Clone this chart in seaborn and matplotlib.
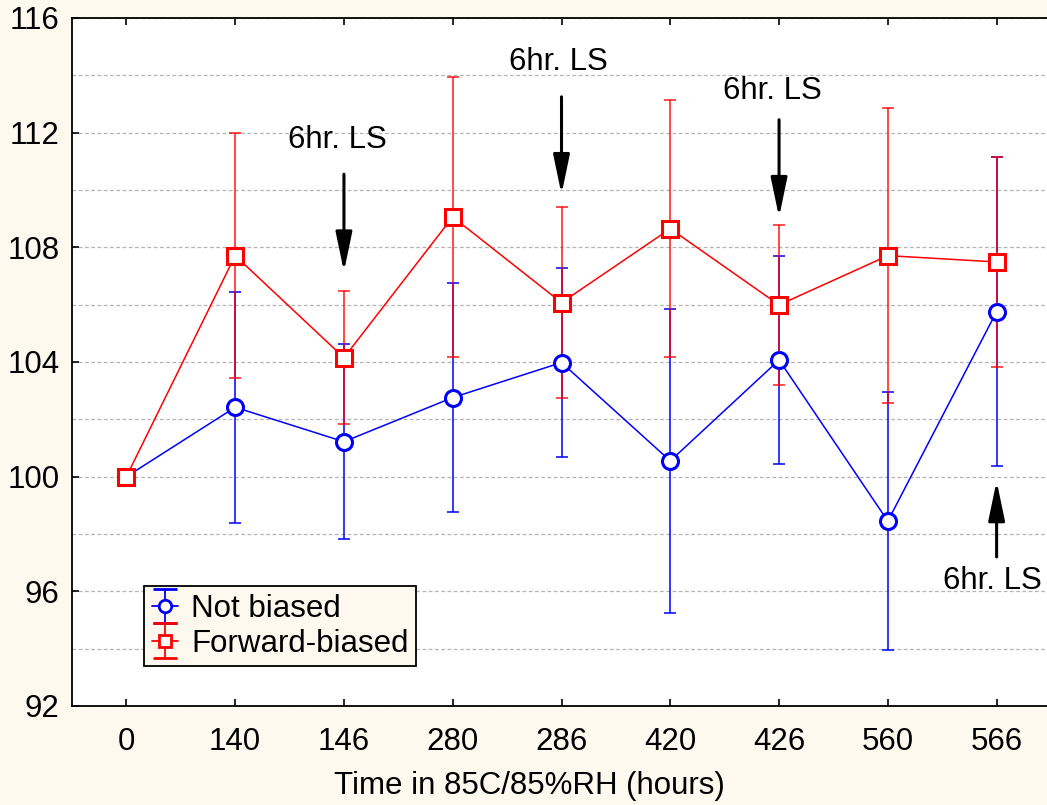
import matplotlib
matplotlib.use("Agg")
import matplotlib.pyplot as plt
import seaborn as sns
import numpy as np
import pandas as pd
from matplotlib.legend_handler import HandlerErrorbar
from matplotlib.container import ErrorbarContainer

# ---- data ----
time_labels = ["0", "140", "146", "280", "286", "420", "426", "560", "566"]
not_biased = [100.0, 102.42, 101.22, 102.76, 103.98, 100.55, 104.07, 98.45, 105.76]
not_biased_err = [0.0, 4.02, 3.40, 4.00, 3.30, 5.30, 3.63, 4.50, 5.38]
forward_biased = [100.0, 107.71, 104.15, 109.06, 106.07, 108.65, 105.99, 107.71, 107.49]
forward_biased_err = [0.0, 4.27, 2.32, 4.87, 3.33, 4.48, 2.80, 5.15, 3.66]
annot_idx = [2, 4, 6, 8]
annot_text = ["6hr. LS", "6hr. LS", "6hr. LS", "6hr. LS"]

BG = "#fdf9ee"
sns.set_style("white")
plt.rcParams["font.family"] = ["Liberation Sans", "DejaVu Sans"]
for k in ["text.color", "axes.labelcolor", "xtick.color", "ytick.color"]:
    plt.rcParams[k] = "black"

FS = 22.5

fig = plt.figure(figsize=(10.47, 8.05), dpi=100, facecolor=BG)
ax = fig.add_axes([72 / 1047, 99 / 805, 979 / 1047, 688 / 805])
ax.set_facecolor("white")

x = list(range(len(time_labels)))
df = pd.DataFrame({"x": x + x,
                   "y": not_biased + forward_biased,
                   "series": ["Not biased"] * len(x) + ["Forward-biased"] * len(x)})

# error bars
ax.errorbar(x, not_biased, yerr=not_biased_err, fmt="none", ecolor="#0000ff",
            elinewidth=1.1, capsize=4.5, capthick=1.1, zorder=2)
ax.errorbar(x, forward_biased, yerr=forward_biased_err, fmt="none", ecolor="#ff0000",
            elinewidth=1.1, capsize=4.5, capthick=1.1, alpha=0.9, zorder=3)

# lines + markers via seaborn
sns.lineplot(data=df[df.series == "Not biased"], x="x", y="y", ax=ax, color="#0000ff",
             marker="o", markersize=11.5, markeredgewidth=2.2, markerfacecolor="white",
             markeredgecolor="#0000ff", linewidth=1.1, legend=False, zorder=4)
sns.lineplot(data=df[df.series == "Forward-biased"], x="x", y="y", ax=ax, color="#ff0000",
             marker="s", markersize=11.5, markeredgewidth=2.2, markerfacecolor="white",
             markeredgecolor="#ff0000", linewidth=1.1, legend=False, zorder=5)

# legend proxies (not visible in plot)
px_b = ax.errorbar([np.nan], [np.nan], yerr=[1], fmt="-o", color="#0000ff",
                   markersize=9, markeredgewidth=2.0, markerfacecolor="white",
                   lw=1.3, elinewidth=1.3, capsize=8.5, capthick=1.3)
px_r = ax.errorbar([np.nan], [np.nan], yerr=[1], fmt="-s", color="#ff0000",
                   markersize=9, markeredgewidth=2.0, markerfacecolor="white",
                   lw=1.3, elinewidth=1.3, capsize=8.5, capthick=1.3)

ax.set_xlim(-0.5, 8.5)
ax.set_ylim(92, 116)
ax.set_xticks(x)
ax.set_xticklabels(time_labels)
ax.set_yticks([92, 96, 100, 104, 108, 112, 116])
ax.set_yticks([94, 98, 102, 106, 110, 114], minor=True)
ax.yaxis.grid(True, which="both", linestyle=(0, (3, 2)), color="#b5b5b5", linewidth=0.9)
ax.xaxis.grid(False)
ax.set_axisbelow(True)
ax.tick_params(axis="both", which="major", labelsize=FS, direction="in", length=5,
               width=1.2, color="black")
ax.tick_params(axis="y", which="minor", direction="in", length=5, width=1.2)
ax.tick_params(axis="x", top=True, bottom=True, direction="in", pad=15)
ax.tick_params(axis="y", left=True, right=False, pad=9)
for s in ["left", "top", "bottom"]:
    ax.spines[s].set_color("black")
    ax.spines[s].set_linewidth(1.3)
ax.spines["right"].set_visible(False)
ax.set_xlabel("Time in 85C/85%RH (hours)", fontsize=FS, labelpad=10)
ax.xaxis.set_label_coords((529 - 72) / 979, -0.095)
ax.set_ylabel("")

# annotations
text_xy = [(1.94, 111.75), (3.97, 114.45), (5.94, 113.45), (7.96, 96.35)]
arrow_from = [110.55, 113.25, 112.45, 97.2]
arrow_to = [107.15, 109.85, 109.05, 99.85]
for i, t, (tx, ty), a0, a1 in zip(annot_idx, annot_text, text_xy, arrow_from, arrow_to):
    ax.text(tx, ty, t, fontsize=FS, ha="center", va="center", zorder=6)
    ax.annotate("", xy=(i, a1), xytext=(i, a0),
                arrowprops=dict(arrowstyle="-|>,head_length=1.2,head_width=0.25",
                                color="black", lw=2.2, mutation_scale=20,
                                shrinkA=0, shrinkB=0), zorder=6)

# legend
leg = ax.legend(handles=[px_b, px_r],
                labels=["Not biased", "Forward-biased"],
                handler_map={ErrorbarContainer: HandlerErrorbar(xerr_size=0.5, yerr_size=0.55,
                                                                numpoints=1)},
                loc="upper left", bbox_to_anchor=(144 / 1047, 1 - 586 / 805),
                bbox_transform=fig.transFigure, borderaxespad=0, fontsize=FS,
                frameon=True, fancybox=False, handlelength=0.85, handletextpad=0.4,
                borderpad=0.25, labelspacing=0.15)
leg.get_frame().set_facecolor(BG)
leg.get_frame().set_edgecolor("black")
leg.get_frame().set_linewidth(1.3)
leg.get_frame().set_alpha(1)

fig.savefig("out.png", dpi=100, facecolor=BG)
